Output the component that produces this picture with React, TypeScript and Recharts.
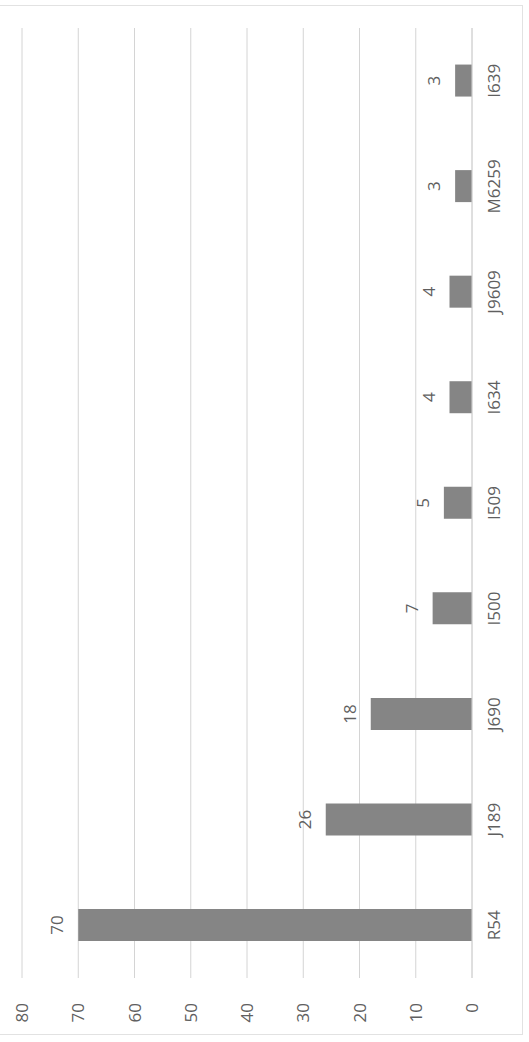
import { BarChart, Bar, XAxis, YAxis, CartesianGrid, LabelList } from 'recharts';

const categories = ['R54', 'J189', 'J690', 'I500', 'I509', 'I634', 'J9609', 'M6259', 'I639'];
const counts = [70, 26, 18, 7, 5, 4, 4, 3, 3];
const valueTicks = [0, 10, 20, 30, 40, 50, 60, 70, 80];

const data = categories.map((code, i) => ({ code, count: counts[i] }));

const font = '"Open Sans", "Noto Sans", sans-serif';
const textColor = '#5f5f5f';

export default function App() {
  // chart is drawn as a normal column chart, then turned a quarter left like the scan
  return (
    <div style={{ position: 'fixed', left: 0, top: 0, width: 529, height: 1042, background: '#fff', overflow: 'hidden' }}>
      <div
        style={{
          position: 'absolute',
          left: -4,
          top: 5,
          width: 527,
          height: 1030,
          border: '1px solid #e2e2e2',
          boxSizing: 'border-box',
        }}
      />
      <div
        style={{
          position: 'absolute',
          left: 0,
          top: 0,
          width: 1042,
          height: 529,
          transformOrigin: 'top left',
          transform: 'translate(0px, 1042px) rotate(-90deg)',
        }}
      >
        <BarChart width={1042} height={529} data={data} margin={{ top: 22, right: 28, left: 0, bottom: 17 }}>
          <CartesianGrid vertical={false} stroke="#d4d4d4" />
          <XAxis
            dataKey="code"
            axisLine={{ stroke: '#d4d4d4' }}
            tickLine={false}
            tickMargin={10}
            height={40}
            interval={0}
            tick={{ fill: textColor, fontSize: 17, fontFamily: font }}
          />
          <YAxis
            type="number"
            domain={[0, 80]}
            ticks={valueTicks}
            width={64}
            axisLine={false}
            tickLine={false}
            tickMargin={19}
            tick={{ fill: textColor, fontSize: 17, fontFamily: font }}
          />
          <Bar dataKey="count" fill="#858585" barSize={32} isAnimationActive={false}>
            <LabelList dataKey="count" position="top" offset={15} fill={textColor} fontSize={17} fontFamily={font} />
          </Bar>
        </BarChart>
      </div>
    </div>
  );
}
